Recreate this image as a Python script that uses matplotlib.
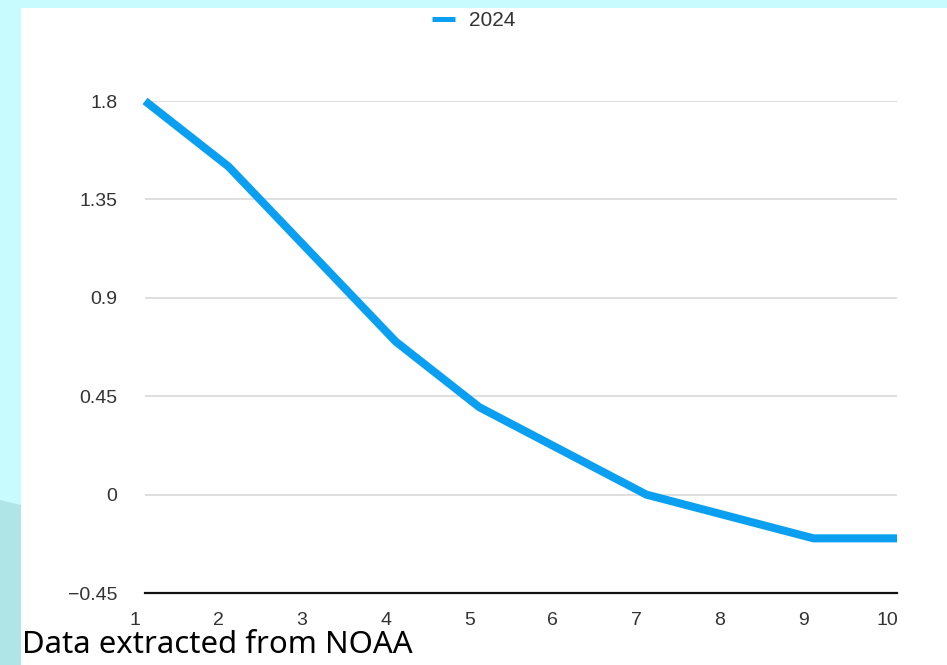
import matplotlib.pyplot as plt
from matplotlib.patches import Rectangle, Polygon
from matplotlib.transforms import ScaledTranslation

# data
months = [1, 2, 3, 4, 5, 6, 7, 8, 9, 10]
values_2024 = [1.8, 1.5, 1.1, 0.7, 0.4, 0.2, 0.0, -0.1, -0.2, -0.2]
y_ticks = [-0.45, 0, 0.45, 0.9, 1.35, 1.8]
y_labels = ["\u22120.45", "0", "0.45", "0.9", "1.35", "1.8"]
series_name = "2024"
footer = "Data extracted from NOAA"

fig = plt.figure(figsize=(9.47, 6.65), dpi=100)
fig.patch.set_facecolor("#c8fbfd")

# white panel + darker strip bottom-left
fig.patches.append(Rectangle((21 / 947, 0), 1, 1 - 8 / 665, transform=fig.transFigure,
                             facecolor="white", edgecolor="none", zorder=-10))
fig.patches.append(Polygon([(0, 0), (21 / 947, 0), (21 / 947, 1 - 505 / 665), (0, 1 - 500 / 665)],
                           closed=True, transform=fig.transFigure,
                           facecolor="#b0e5e8", edgecolor="none", zorder=-10))

ax = fig.add_axes([145 / 947, 1 - 593 / 665, 752 / 947, 492 / 665])
ax.set_facecolor("none")
ax.plot(months, values_2024, color="#0a9ff0", linewidth=5.8, solid_capstyle="butt",
        solid_joinstyle="miter", clip_on=False, label=series_name, zorder=3)

ax.set_xlim(1, 10)
ax.set_ylim(-0.45, 1.8)
ax.set_xticks(months)
ax.set_yticks(y_ticks)
ax.set_yticklabels(y_labels)
ax.grid(axis="y", color="#d9d9d9", linewidth=1.2)
ax.set_axisbelow(True)
for s in ["top", "right", "left"]:
    ax.spines[s].set_visible(False)
ax.spines["bottom"].set_color("#111111")
ax.spines["bottom"].set_linewidth(1.6)
ax.tick_params(axis="both", length=0, labelsize=14, labelcolor="#333333")
ax.tick_params(axis="y", pad=20)
ax.tick_params(axis="x", pad=14)
shift = ScaledTranslation(-10 / 100, 0, fig.dpi_scale_trans)
for lab in ax.get_xticklabels():
    lab.set_transform(lab.get_transform() + shift)
for lab in ax.get_xticklabels() + ax.get_yticklabels():
    lab.set_fontfamily("Liberation Sans")

leg = ax.legend(loc="center", bbox_to_anchor=(0.5, 1 - 21 / 665), bbox_transform=fig.transFigure,
                frameon=False, handlelength=1.1, handletextpad=0.65,
                prop={"family": "Liberation Sans", "size": 15})
for t in leg.get_texts():
    t.set_color("#333333")
for h in leg.get_lines():
    h.set_linewidth(3.6)

fig.text(22 / 947, 1 - 653 / 665, footer, fontsize=22.4, family="Noto Sans",
         color="black", va="baseline", ha="left")

fig.savefig("out.png", dpi=100, facecolor=fig.get_facecolor())
